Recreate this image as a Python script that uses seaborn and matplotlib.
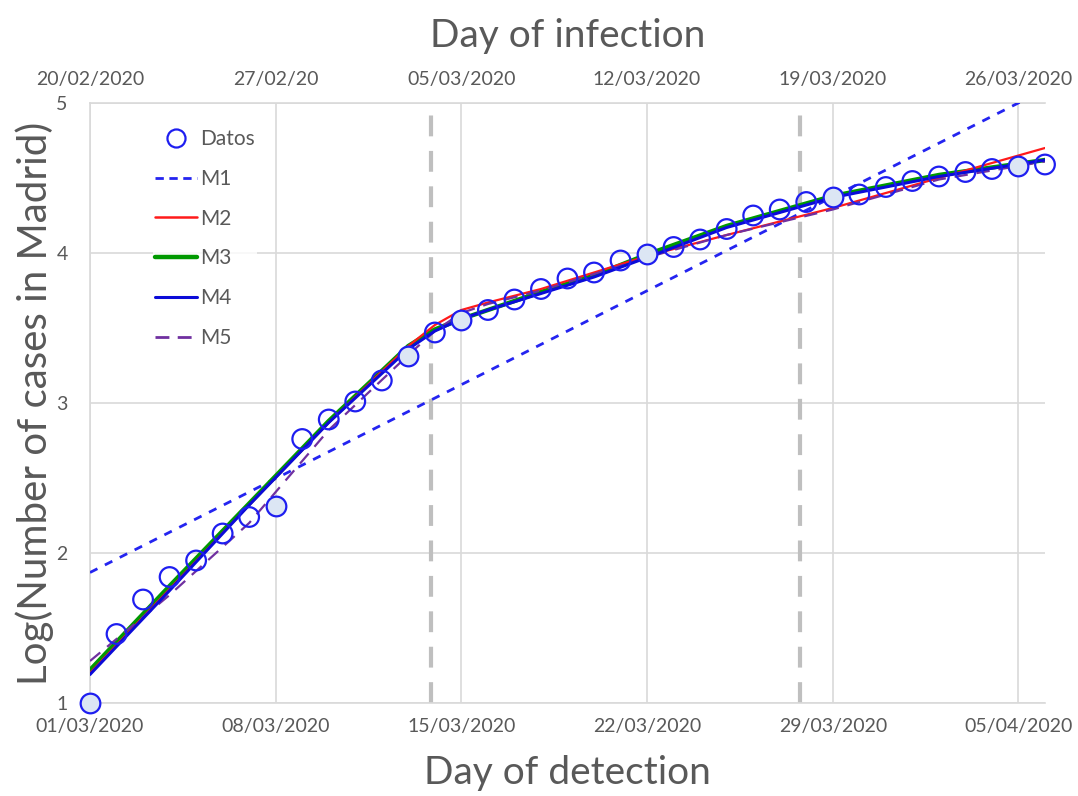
import numpy as np
import pandas as pd
import matplotlib
matplotlib.use("Agg")
import matplotlib.pyplot as plt
import seaborn as sns
from matplotlib.lines import Line2D

# observed data, day 0 = 01/03/2020
days = list(range(37))
log_cases = [1.00, 1.46, 1.69, 1.84, 1.95, 2.13, 2.24, 2.31, 2.76, 2.89,
             3.01, 3.15, 3.31, 3.47, 3.55, 3.62, 3.69, 3.76, 3.83, 3.87,
             3.95, 3.99, 4.04, 4.09, 4.16, 4.25, 4.29, 4.34, 4.37, 4.39,
             4.44, 4.48, 4.51, 4.54, 4.56, 4.58, 4.59]
filled_days = [0, 7, 12, 14, 21, 28, 35]

# model curves
m1_days = [0, 36]
m1_vals = [1.87, 5.09]

m_days = [0, 3, 6, 9, 12, 13, 14, 15, 17, 19, 21, 24, 28, 32, 36]
m2_vals = [1.20, 1.76, 2.32, 2.87, 3.38, 3.52, 3.62, 3.67, 3.76, 3.87, 3.98, 4.12, 4.30, 4.50, 4.70]
m3_vals = [1.22, 1.78, 2.33, 2.88, 3.38, 3.49, 3.56, 3.62, 3.74, 3.85, 3.99, 4.18, 4.38, 4.52, 4.62]
m4_vals = [1.19, 1.75, 2.32, 2.87, 3.36, 3.48, 3.56, 3.62, 3.73, 3.84, 3.97, 4.17, 4.37, 4.51, 4.62]
m5_vals = [1.28, 1.72, 2.20, 2.82, 3.32, 3.48, 3.60, 3.66, 3.75, 3.86, 3.97, 4.12, 4.29, 4.49, 4.61]

bottom_ticks = [0, 7, 14, 21, 28, 35]
bottom_labels = ["01/03/2020", "08/03/2020", "15/03/2020", "22/03/2020", "29/03/2020", "05/04/2020"]
top_labels = ["20/02/2020", "27/02/20", "05/03/2020", "12/03/2020", "19/03/2020", "26/03/2020"]
cut_days = [12.85, 26.75]

sns.set_style("white")
plt.rcParams["font.family"] = ["Lato", "DejaVu Sans"]
grey_txt = "#595959"
grid_c = "#D9D9D9"

fig = plt.figure(figsize=(10.78, 7.96), dpi=100)
ax = fig.add_axes([90 / 1078, 1 - 703 / 796, 955 / 1078, 600 / 796])

for d in cut_days:
    ax.axvline(d, color="#BFBFBF", lw=3, ls=(0, (5, 3.5)), zorder=1)

sns.lineplot(x=m1_days, y=m1_vals, ax=ax, color="#2424F0", lw=2, ls=(0, (3, 3)), zorder=3)
sns.lineplot(x=m_days, y=m3_vals, ax=ax, color="#009900", lw=3.2, zorder=3)
sns.lineplot(x=m_days, y=m2_vals, ax=ax, color="#FF1A1A", lw=1.6, zorder=4)
sns.lineplot(x=m_days, y=m5_vals, ax=ax, color="#7030A0", lw=1.6, ls=(0, (6, 4)), zorder=4)
sns.lineplot(x=m_days, y=m4_vals, ax=ax, color="#0B0BD8", lw=2.2, zorder=5)

df = pd.DataFrame({"day": days, "val": log_cases})
df["filled"] = df["day"].isin(filled_days)
sns.scatterplot(data=df[~df["filled"]], x="day", y="val", ax=ax, s=200, marker="o",
                facecolor="none", edgecolor="#1E1EF0", linewidth=1.6, zorder=6, clip_on=False)
sns.scatterplot(data=df[df["filled"]], x="day", y="val", ax=ax, s=200, marker="o",
                facecolor="#DCE6F4", edgecolor="#1E1EF0", linewidth=1.6, zorder=6, clip_on=False)

ax.set_xlim(0, 36)
ax.set_ylim(1, 5)
ax.set_xticks(bottom_ticks)
ax.set_xticklabels(bottom_labels)
ax.set_yticks([1, 2, 3, 4, 5])
ax.set_xticks(np.arange(0, 37, 1), minor=True)
ax.set_yticks(np.arange(1, 5.01, 0.2), minor=True)
ax.grid(True, which="major", color=grid_c, lw=1.2)
ax.tick_params(axis="both", which="major", length=0, labelsize=14, labelcolor=grey_txt)
ax.tick_params(axis="x", which="major", pad=11)
ax.tick_params(axis="y", which="major", pad=16)
ax.tick_params(axis="both", which="minor", direction="in", length=4, color=grid_c, width=1)
ax.spines["right"].set_visible(False)
for s in ["left", "bottom", "top"]:
    ax.spines[s].set_color(grid_c)
    ax.spines[s].set_linewidth(1.2)

ax.set_xlabel("Day of detection", fontsize=28, color=grey_txt, labelpad=14)
ax.set_ylabel("Log(Number of cases in Madrid)", fontsize=29, color=grey_txt, labelpad=2)

top = ax.secondary_xaxis("top")
top.set_xticks(bottom_ticks)
top.set_xticklabels(top_labels)
top.tick_params(length=0, labelsize=14, labelcolor=grey_txt, pad=11)
top.spines["top"].set_visible(False)
top.set_xlabel("Day of infection", fontsize=28, color=grey_txt, labelpad=17)

handles = [
    Line2D([], [], ls="none", marker="o", markersize=13, markerfacecolor="none",
           markeredgecolor="#1E1EF0", markeredgewidth=1.6),
    Line2D([], [], color="#2424F0", lw=2, ls=(0, (3, 2))),
    Line2D([], [], color="#FF1A1A", lw=1.8),
    Line2D([], [], color="#009900", lw=3.2),
    Line2D([], [], color="#0B0BD8", lw=2.2),
    Line2D([], [], color="#7030A0", lw=2, ls=(0, (5, 3))),
]
leg = ax.legend(handles, ["Datos", "M1", "M2", "M3", "M4", "M5"], loc="upper left",
                bbox_to_anchor=(0.066, 0.96), frameon=True, facecolor="white",
                edgecolor="none", fontsize=15, handlelength=2.0, handletextpad=0.15,
                labelspacing=0.95, borderpad=0.1, borderaxespad=0)
for t in leg.get_texts():
    t.set_color(grey_txt)

fig.savefig("out.png", dpi=100)
